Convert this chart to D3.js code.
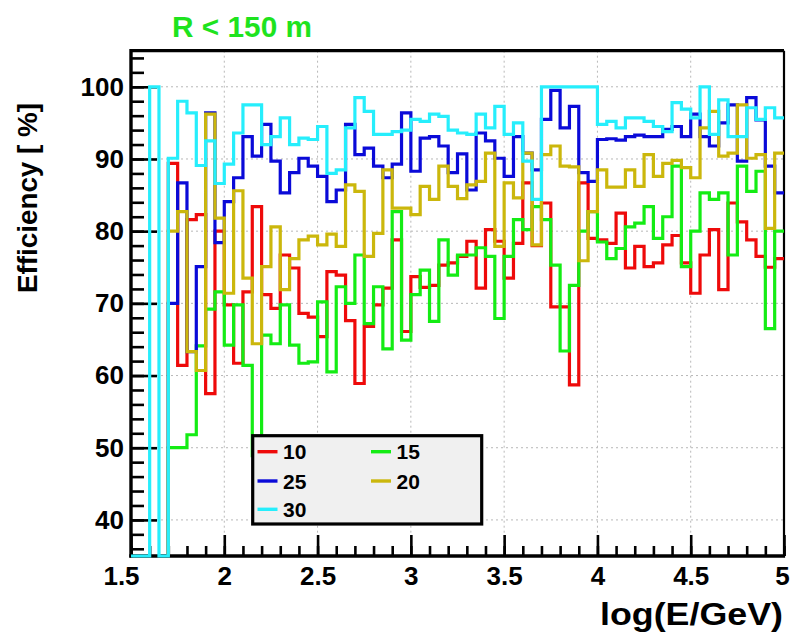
<!DOCTYPE html>
<html><head><meta charset="utf-8">
<script src="https://cdn.jsdelivr.net/npm/d3@7"></script>
<style>
body{margin:0;background:#fff}
svg{display:block}
text{font-family:"Liberation Sans",Arial,Helvetica,sans-serif;font-weight:bold}
</style>
</head><body>
<svg id="chart" width="794" height="636"></svg>
<script>
// ---- data ----
const title = "R < 150 m";
const xLabel = "log(E/GeV)";
const yLabel = "Efficiency [ %]";
const xMin = 1.5, xMax = 5.0, binWidth = 0.05;
const yMin = 35, yMax = 105;
const xTickLabels = [1.5, 2, 2.5, 3, 3.5, 4, 4.5, 5];
const yTickLabels = [40, 50, 60, 70, 80, 90, 100];
const seriesNames = ["10", "15", "25", "20", "30"];

const eff10 = [null,null,null,null,89.4,61.4,81.6,82.3,57.5,80,69.8,61.7,71.6,83.4,71.2,69.3,76.7,74.9,68.6,68.1,
  65.4,74.4,73.9,67.6,58.9,66.8,69.8,72.1,78.8,66.1,73.7,72.2,72.5,75.3,75.6,76.5,78.6,72.1,80.2,78.6,
  73.5,78.3,86.7,78,83.9,69.5,69.5,58.7,86.7,79,78.8,78.3,82.5,74.9,77.9,75.1,75.6,78.1,79.4,75.6,
  71.4,76.7,80.2,71.9,83.9,81.3,78.8,76.5,75,76.2];
const eff15 = [null,null,null,null,50,50,51.8,64.1,69.2,71.6,64.2,69.8,61.4,48.9,65.6,64.4,69.8,64.2,61.7,61.9,
  70.2,60.5,72.3,70,76.7,67.2,72.3,63.7,82.7,64.9,71.2,74.6,67.5,78.8,73.9,76.7,76.7,77.7,76.5,67.9,
  76.5,81.6,80.2,83.4,81.6,75.3,63.4,72.5,80,82.7,78.5,76.2,77.6,80.6,81.1,83.4,79,82,89,75.1,
  80,85.3,84.4,85.3,76.7,89,85.5,88.3,66.5,80];
const eff25 = [null,null,null,null,70,86.7,63.3,75.1,96.4,78.4,84.1,87.4,93.1,90.4,94.8,89.7,85.3,88.1,90.1,89,
  87.6,84.1,85.7,94.8,90.6,91.5,89,87.4,89.3,96.4,88.3,92.9,93.1,91.8,88.1,90.7,85.7,93.6,92.5,90.1,
  87.6,93.1,90.8,88.5,95.5,99.5,94.3,97.3,88.1,86.9,92.7,92.8,92.6,93.1,93.3,93.1,93.1,94.1,94.5,93.1,
  96.2,93.1,91.8,95,97.5,89.7,98.5,95.4,89,85.3];
const eff20 = [null,null,null,null,80,82.7,63.3,60.7,96.2,81.8,71.4,85.6,73.5,64.4,75.1,80.6,71.9,76.2,78.8,79.3,
  78.1,79.6,77.9,86.4,85.5,76.5,79.7,88.5,83.2,83.2,82.3,86.2,84.4,89,86.2,84.5,86.4,86.9,90.8,77.9,
  86.7,84.6,90.8,78.1,90.6,91.8,89,88.9,75.9,82.7,88.5,86.1,86.1,88.5,86.2,90.6,87.6,89.4,89.8,88.8,
  87.4,94.3,96.6,90.4,90.8,97.5,90.1,90.6,80.4,90.8];
const eff30 = [0,0,100,0,90.1,98,96.4,89.1,92.5,86.6,89.3,93.6,97.5,97.5,92,93.1,95.7,92,92.9,92.7,
  94.5,88,88.5,94.3,98.5,96.6,93.4,93.4,93.8,94,95.5,95.2,96.2,95.9,94,93.6,93.4,96.2,94.3,97.3,
  93.4,95,89.7,84.4,100,100,100,100,100,100,94.8,95.2,94.3,95.7,95.7,95.2,94.5,93.8,97.8,96.9,
  95.7,100,93.4,98.2,93.1,93.1,97.1,95.5,97.1,95.7];

const colors = {"10":"#ee0a0a","15":"#14ec14","25":"#0a0ad8","20":"#cbb70c","30":"#26eefc"};
const seriesData = {"10":eff10,"15":eff15,"25":eff25,"20":eff20,"30":eff30};

// ---- layout ----
const svg = d3.select("#chart");
const L = 131, R = 784, T = 50.7, B = 556;
const x = d3.scaleLinear().domain([xMin, xMax]).range([L, R]);
const y = d3.scaleLinear().domain([yMin, yMax]).range([B, T]).clamp(true);
const binLow = d3.range(eff10.length).map(i => xMin + i * binWidth);

// grid
const grid = svg.append("g").attr("stroke", "#b8b8b8").attr("stroke-width", 1).attr("stroke-dasharray", "2,3");
xTickLabels.slice(1, -1).forEach(v => grid.append("line").attr("x1", x(v)).attr("x2", x(v)).attr("y1", T).attr("y2", B));
yTickLabels.forEach(v => grid.append("line").attr("x1", L).attr("x2", R).attr("y1", y(v)).attr("y2", y(v)));

// axes (ticks inside frame)
const fmtX = d => (d % 1 === 0 ? d3.format("d")(d) : d3.format(".1f")(d));
const xMinorTicks = d3.range(15, 51).map(d => d / 10);
const yMinorTicks = d3.range(36, 105, 2);

const gx = svg.append("g").attr("transform", `translate(0,${B})`);
gx.call(d3.axisBottom(x).tickValues(xMinorTicks).tickSize(-10).tickFormat(""));
gx.call(g => g.select(".domain").remove());
const gx2 = svg.append("g").attr("transform", `translate(0,${B})`);
gx2.call(d3.axisBottom(x).tickValues(xTickLabels).tickSize(-21).tickPadding(11).tickFormat(fmtX));
gx2.call(g => g.select(".domain").remove());
gx2.selectAll(".tick text").filter(d => d === xMin).attr("dx", -10);
gx2.selectAll(".tick text").filter(d => d === xMax).attr("dx", -2);

const gy = svg.append("g").attr("transform", `translate(${L},0)`);
gy.call(d3.axisLeft(y).tickValues(yMinorTicks).tickSize(-13).tickFormat(""));
gy.call(g => g.select(".domain").remove());
const gy2 = svg.append("g").attr("transform", `translate(${L},0)`);
gy2.call(d3.axisLeft(y).tickValues(yTickLabels).tickSize(-26).tickPadding(7).tickFormat(d3.format("d")));
gy2.call(g => g.select(".domain").remove());

svg.selectAll(".tick line").attr("stroke", "#000").attr("stroke-width", 2.6);
svg.selectAll(".tick text").attr("fill", "#000").attr("font-size", 26)
  .attr("font-family", '"Liberation Sans",Arial,sans-serif').attr("font-weight", "bold");

// frame
svg.append("line").attr("x1", L).attr("x2", R).attr("y1", T).attr("y2", T).attr("stroke", "#000").attr("stroke-width", 3.2);
svg.append("line").attr("x1", R).attr("x2", R).attr("y1", T).attr("y2", B).attr("stroke", "#000").attr("stroke-width", 2.2);
svg.append("line").attr("x1", L).attr("x2", L).attr("y1", T - 1.6).attr("y2", B + 1.6).attr("stroke", "#000").attr("stroke-width", 3.4);
svg.append("line").attr("x1", L - 1.7).attr("x2", R + 1.1).attr("y1", B).attr("y2", B).attr("stroke", "#000").attr("stroke-width", 3.4);

// histograms (step lines)
const line = d3.line().x(d => x(d[0])).y(d => y(d[1])).curve(d3.curveStepAfter);
const drawOrder = ["10", "15", "25", "20", "30"];
drawOrder.forEach(name => {
  const vals = seriesData[name];
  const pts = [];
  let last = null;
  vals.forEach((v, i) => {
    if (v === null) return;
    if (pts.length === 0) pts.push([binLow[i], yMin]);
    pts.push([binLow[i], v]);
    last = v;
  });
  pts.push([xMax, last]);
  svg.append("path").attr("d", line(pts)).attr("fill", "none")
    .attr("stroke", colors[name]).attr("stroke-width", 3.2).attr("stroke-linejoin", "miter");
});

// legend
const lg = svg.append("g");
lg.append("rect").attr("x", 252.7).attr("y", 435.7).attr("width", 229).attr("height", 88.3)
  .attr("fill", "#f0f0f0").attr("stroke", "#000").attr("stroke-width", 3.2);
const legendEntries = ["10", "15", "25", "20", "30"];
const colX = [257.5, 371], rowY = [451.7, 481, 509.3];
legendEntries.forEach((name, i) => {
  const cx = colX[i % 2], cy = rowY[Math.floor(i / 2)];
  lg.append("line").attr("x1", cx).attr("x2", cx + 20).attr("y1", cy).attr("y2", cy)
    .attr("stroke", colors[name]).attr("stroke-width", 3.4);
  lg.append("text").attr("x", cx + 25.5).attr("y", cy + 7.5).attr("font-size", 21).attr("fill", "#000").text(name);
});

// texts
svg.append("text").attr("x", 172).attr("y", 36.7).attr("font-size", 30).attr("fill", "#1ee31e")
  .attr("textLength", 140).attr("lengthAdjust", "spacingAndGlyphs").text(title);
svg.append("text").attr("x", 783).attr("y", 625).attr("text-anchor", "end").attr("font-size", 31)
  .attr("fill", "#000").attr("textLength", 183).attr("lengthAdjust", "spacingAndGlyphs").text(xLabel);
svg.append("text").attr("transform", "translate(37,198) rotate(-90)").attr("text-anchor", "middle")
  .attr("font-size", 27).attr("fill", "#000").attr("textLength", 190).attr("lengthAdjust", "spacingAndGlyphs").text(yLabel);
</script>
</body></html>
